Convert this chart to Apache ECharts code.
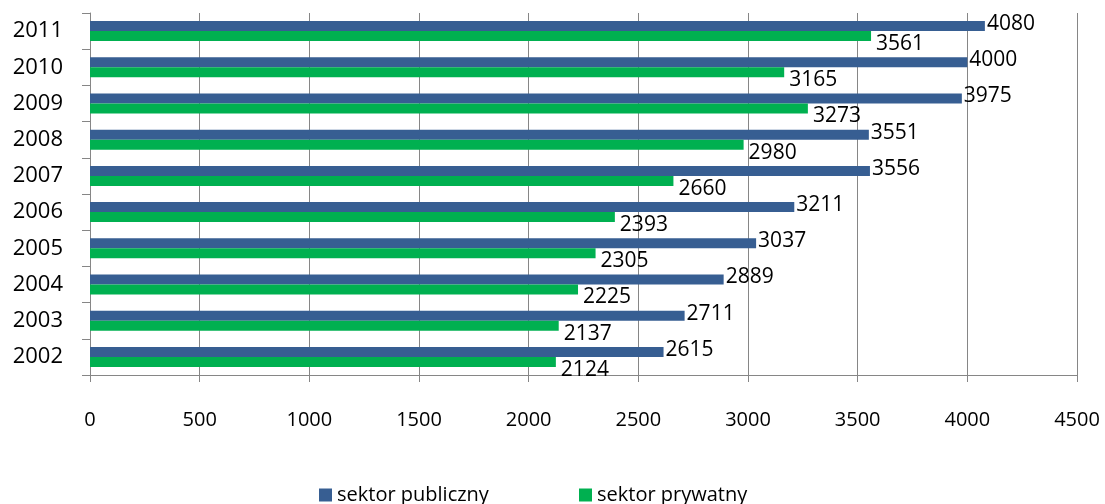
<!DOCTYPE html>
<html>
<head>
<meta charset="utf-8">
<script src="https://cdn.jsdelivr.net/npm/echarts@6/dist/echarts.min.js"></script>
<style>
  html, body { margin: 0; padding: 0; background: #fff; }
  #chart { width: 1105px; height: 504px; }
</style>
</head>
<body>
<div id="chart"></div>
<script>
var years = ['2002', '2003', '2004', '2005', '2006', '2007', '2008', '2009', '2010', '2011'];
var publiczny = [2615, 2711, 2889, 3037, 3211, 3556, 3551, 3975, 4000, 4080];
var prywatny = [2124, 2137, 2225, 2305, 2393, 2660, 2980, 3273, 3165, 3561];
var xTicks = [0, 500, 1000, 1500, 2000, 2500, 3000, 3500, 4000, 4500];

var font = 'Open Sans';
var grey = '#868686';

var chart = echarts.init(document.getElementById('chart'));

chart.setOption({
    animation: false,
    textStyle: { fontFamily: font, color: '#000' },
    grid: { left: 90, right: 28, top: 13, bottom: 129 },
    legend: [
        {
            data: ['sektor publiczny'],
            left: 314, top: 480,
            itemWidth: 13, itemHeight: 13, itemGap: 6,
            icon: 'rect',
            textStyle: { fontFamily: font, fontSize: 20, color: '#000' }
        },
        {
            data: ['sektor prywatny'],
            left: 574, top: 480,
            itemWidth: 13, itemHeight: 13, itemGap: 6,
            icon: 'rect',
            textStyle: { fontFamily: font, fontSize: 20, color: '#000' }
        }
    ],
    xAxis: {
        type: 'value',
        min: xTicks[0],
        max: xTicks[xTicks.length - 1],
        interval: 500,
        axisLine: { show: true, lineStyle: { color: grey, width: 1 } },
        axisTick: { show: true, length: 7, lineStyle: { color: grey } },
        splitLine: { show: true, lineStyle: { color: grey, width: 1 } },
        axisLabel: {
            fontFamily: font, fontSize: 20, color: '#000', margin: 35,
            formatter: function (v) { return String(v); }
        }
    },
    yAxis: {
        type: 'category',
        data: years,
        axisLine: { show: true, lineStyle: { color: grey, width: 1 } },
        axisTick: { show: true, length: 8, lineStyle: { color: grey } },
        axisLabel: { fontFamily: font, fontSize: 22, color: '#000', margin: 27 }
    },
    series: [
        {
            name: 'sektor publiczny',
            type: 'bar',
            data: publiczny,
            barWidth: 10,
            barGap: '0%',
            itemStyle: { color: '#375E92' },
            label: {
                show: true, position: 'right', distance: 2, offset: [0, -2],
                fontFamily: font, fontSize: 21, color: '#000'
            }
        },
        {
            name: 'sektor prywatny',
            type: 'bar',
            data: prywatny,
            barWidth: 10,
            barGap: '0%',
            itemStyle: { color: '#00B050' },
            label: {
                show: true, position: 'right', distance: 5, offset: [0, 8],
                fontFamily: font, fontSize: 21, color: '#000'
            }
        }
    ]
});
</script>
</body>
</html>
